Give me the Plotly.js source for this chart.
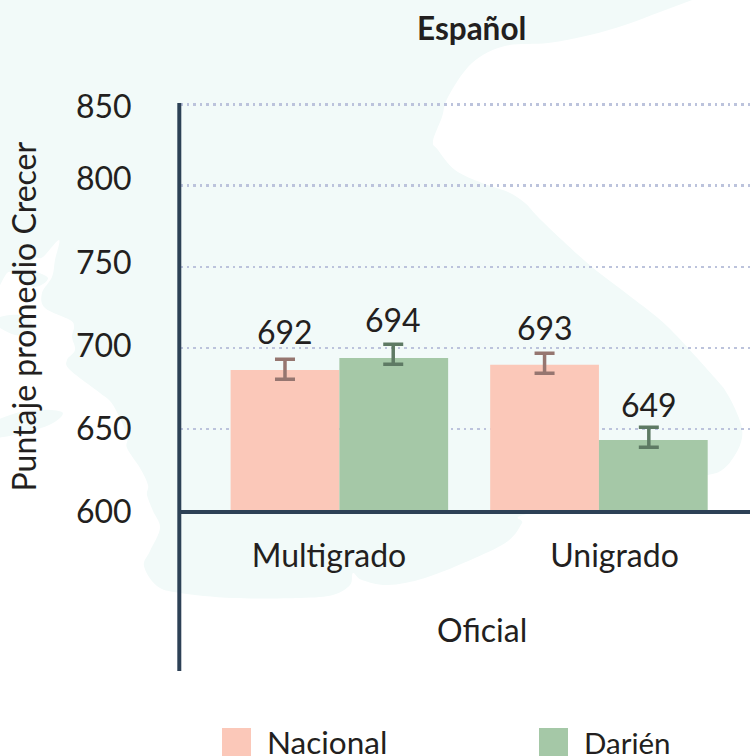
<!DOCTYPE html>
<html><head><meta charset="utf-8">
<script src="https://cdn.plot.ly/plotly-3.0.1.min.js"></script>
<style>html,body{margin:0;padding:0;background:#fff;overflow:hidden}#c{width:750px;height:756px}</style>
</head><body><div id="c"></div>
<script>
// Data
const categories = ["Multigrado", "Unigrado"];
const seriesNames = ["Nacional", "Darién"];
const nacional = [686.4, 689.5];
const darien = [693.8, 643.2];
const nacionalUp = [6.6, 7.2];
const nacionalDown = [5.7, 5.1];
const darienUp = [8.4, 7.8];
const darienDown = [3.9, 4.5];
const nacionalLabels = ["692", "693"];
const darienLabels = ["694", "649"];
const yTicks = [600, 650, 700, 750, 800, 850];
const titleText = "Español";
const yTitleText = "Puntaje promedio Crecer";
const groupLabel = "Oficial";

// Style
const W = 750, H = 756, L = 180, T = 103.08, B = 510;
const font = "Lato, sans-serif", ink = "#231f20", axisInk = "#2d4156";
const fillN = "#fbc8b9", fillD = "#a5c8a7", errN = "#967670", errD = "#5e7a64", pale = "#f2faf9";
const bargap = 0.162;
const xp = x => (x - L) / (W - L), yp = y => (B - y) / (B - T);
const barW = (1 - bargap) / 2;
const groupPos = categories.map((c, i) => i);
const nudgeD = [-0.002, -0.0173];   // whisker and label offset from the Darién bar centre
const xN = groupPos.map(i => i - barW / 2);
const xD = groupPos.map((i, k) => i + barW / 2 + nudgeD[k]);
const shiftN = [38, 37], shiftD = [38, 35];

// Decorative pale backdrop (page pixels)
const backdropMain = [[-10,-40],[730,-15],[695,-1],[660,12],[625,25],[590,35],[548,43],[505,46],[472,63],[448,97],[442,117],[433,141],[438,150],[455,170],[482,183],[508,192],[525,203],[538,217],[562,240],[592,267],[635,300],[668,327],[715,378],[728,395],[740,421],[742,438],[735,455],[722,470],[700,477],[600,500],[523,515],[522,523],[508,541],[475,558],[425,578],[388,585],[362,580],[353,573],[350,585],[333,595],[300,598],[233,598],[180,593],[157,586],[144,566],[150,551],[160,528],[153,511],[147,495],[148,485],[140,468],[127,448],[127,435],[113,405],[100,393],[70,370],[67,360],[75,350],[72,337],[74,327],[70,320],[45,308],[42,293],[52,277],[55,260],[59,240],[43,257],[35,258],[30,268],[48,278],[33,287],[10,272],[-10,267]];
const backdropIslands = [
  [[-10,425],[10,415],[33,410],[62,412],[53,423],[27,432],[-10,438]],
  [[-10,320],[10,315],[27,317],[33,332],[15,335],[-10,322]]
];
function smooth(pts) {
  const n = pts.length, at = i => pts[(i + n) % n], q = p => xp(p[0]).toFixed(5) + "," + yp(p[1]).toFixed(5);
  let d = "M" + q(pts[0]);
  for (let i = 0; i < n; i++) {
    const p0 = at(i-1), p1 = at(i), p2 = at(i+1), p3 = at(i+2), k = 1/6;
    const c1 = [p1[0] + (p2[0]-p0[0])*k, p1[1] + (p2[1]-p0[1])*k];
    const c2 = [p2[0] - (p3[0]-p1[0])*k, p2[1] - (p3[1]-p1[1])*k];
    d += "C" + q(c1) + " " + q(c2) + " " + q(p2);
  }
  return d + "Z";
}
const paperShape = o => Object.assign({xref:"paper", yref:"paper"}, o);
const blobs = [backdropMain].concat(backdropIslands).map(p => paperShape({type:"path", path:smooth(p), fillcolor:pale, line:{width:0}, layer:"below"}));

const bar = (name, y, color) => ({
  type:"bar", name, x:groupPos, y, marker:{color, line:{width:0}}, showlegend:false, hoverinfo:"skip"
});
const whisker = (name, x, y, up, down, err) => ({
  type:"scatter", mode:"markers", name, x, y, marker:{size:1, opacity:0}, showlegend:false, hoverinfo:"skip",
  error_y:{type:"data", symmetric:false, array:up, arrayminus:down, color:err, thickness:3.5, width:10}
});
const traces = [
  bar(seriesNames[0], nacional, fillN),
  bar(seriesNames[1], darien, fillD),
  whisker(seriesNames[0], xN, nacional, nacionalUp, nacionalDown, errN),
  whisker(seriesNames[1], xD, darien, darienUp, darienDown, errD)
];

const tx = (text, x, y, size, extra) => Object.assign({text, x, y, xref:"paper", yref:"paper", showarrow:false, font:{family:font, size, color:ink}, xanchor:"center", yanchor:"middle"}, extra||{});
const valueLabels = [];
categories.forEach((c,i) => {
  valueLabels.push({text:nacionalLabels[i], x:xN[i], y:nacional[i], xref:"x", yref:"y", yshift:shiftN[i], showarrow:false, font:{family:font,size:32,color:ink}, yanchor:"middle"});
  valueLabels.push({text:darienLabels[i], x:xD[i], y:darien[i], xref:"x", yref:"y", yshift:shiftD[i], showarrow:false, font:{family:font,size:32,color:ink}, yanchor:"middle"});
});
const tickShift = {850:-1, 800:8.5, 750:5.5, 700:3.5, 650:1.5, 600:0};
const yLabels = yTicks.map(v => ({text:String(v), x:xp(133.5), xref:"paper", y:v, yref:"y", yshift:tickShift[v], showarrow:false, xanchor:"right", yanchor:"middle", font:{family:font,size:32,color:ink}}));

const layout = {
  width:W, height:H, autosize:false,
  margin:{l:L, r:0, t:T, b:H-B, pad:0},
  paper_bgcolor:"rgba(0,0,0,0)", plot_bgcolor:"rgba(0,0,0,0)",
  barmode:"group", bargap, bargroupgap:0, showlegend:false,
  xaxis:{type:"linear", range:[-0.614, 1.582], autorange:false, tickmode:"array", tickvals:[-0.04, 1.06], ticktext:categories,
    ticks:"outside", ticklen:15, tickcolor:"rgba(0,0,0,0)", tickfont:{family:font,size:32,color:ink},
    showline:true, linecolor:axisInk, linewidth:3.5, showgrid:false, zeroline:false},
  yaxis:{range:[600,851], autorange:false, tickmode:"array", tickvals:yTicks, showticklabels:false, ticks:"",
    showline:false, showgrid:true, gridcolor:"#bcc3dc", gridwidth:2.5, griddash:"2.5px,4.1px", zeroline:false},
  shapes: blobs.concat([
    paperShape({type:"line", x0:xp(179.3), x1:xp(179.3), y0:yp(103), y1:yp(671), line:{color:axisInk, width:4}, layer:"above"}),
    paperShape({type:"rect", x0:xp(222), x1:xp(251), y0:yp(728), y1:yp(760), fillcolor:fillN, line:{width:0}}),
    paperShape({type:"rect", x0:xp(539), x1:xp(568), y0:yp(728), y1:yp(760), fillcolor:fillD, line:{width:0}})
  ]),
  annotations: valueLabels.concat(yLabels, [
    tx("<b>"+titleText+"</b>", xp(471), yp(28), 31.5),
    tx(yTitleText, xp(23), yp(316.5), 32, {textangle:-90}),
    tx(groupLabel, xp(481.5), yp(629.5), 32),
    tx(seriesNames[0], xp(265), yp(742), 31.5, {xanchor:"left"}),
    tx(seriesNames[1], xp(582), yp(742), 29.5, {xanchor:"left"})
  ])
};
Plotly.newPlot("c", traces, layout, {displayModeBar:false, staticPlot:true});
</script></body></html>
